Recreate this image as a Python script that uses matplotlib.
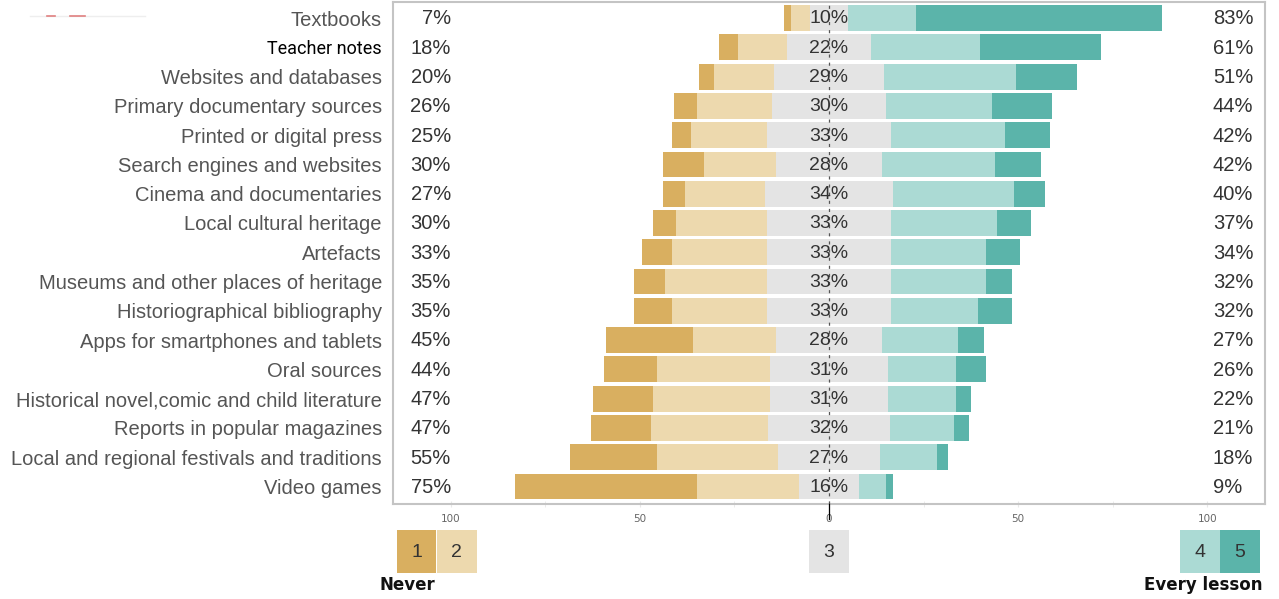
import matplotlib
matplotlib.use("Agg")
import matplotlib.pyplot as plt
from matplotlib.lines import Line2D
import numpy as np

cats = ['Textbooks', 'Teacher notes', 'Websites and databases',
        'Primary documentary sources', 'Printed or digital press',
        'Search engines and websites', 'Cinema and documentaries',
        'Local cultural heritage', 'Artefacts',
        'Museums and other places of heritage', 'Historiographical bibliography',
        'Apps for smartphones and tablets', 'Oral sources',
        'Historical novel,comic and child literature',
        'Reports in popular magazines',
        'Local and regional festivals and traditions', 'Video games']

# answer shares (%) per level, 1 = never ... 5 = every lesson
r1 = [2, 5, 4, 6, 5, 11, 6, 6, 8, 8, 10, 23, 14, 16, 16, 23, 48]
r2 = [5, 13, 16, 20, 20, 19, 21, 24, 25, 27, 25, 22, 30, 31, 31, 32, 27]
r3 = [10, 22, 29, 30, 33, 28, 34, 33, 33, 33, 33, 28, 31, 31, 32, 27, 16]
r4 = [18, 29, 35, 28, 30, 30, 32, 28, 25, 25, 23, 20, 18, 18, 17, 15, 7]
r5 = [65, 32, 16, 16, 12, 12, 8, 9, 9, 7, 9, 7, 8, 4, 4, 3, 2]

levels = ['1', '2', '3', '4', '5']
cols = ['#D9AF60', '#EDD9AE', '#E4E4E4', '#ABDAD4', '#5BB4AA']

r1 = np.array(r1); r2 = np.array(r2); r3 = np.array(r3)
r4 = np.array(r4); r5 = np.array(r5)
low = r1 + r2
high = r4 + r5

fig = plt.figure(figsize=(12.79, 5.99), dpi=100)
W, H = 1279, 599
ax = fig.add_axes([393 / W, 1 - 504 / H, (1265 - 393) / W, (504 - 2) / H])

y = np.arange(len(cats))
h = 0.88
start = -r3 / 2 - r2 - r1
ax.barh(y, r1, left=start, height=h, color=cols[0], zorder=2)
ax.barh(y, r2, left=start + r1, height=h, color=cols[1], zorder=2)
ax.barh(y, r3, left=-r3 / 2, height=h, color=cols[2], zorder=2)
ax.barh(y, r4, left=r3 / 2, height=h, color=cols[3], zorder=2)
ax.barh(y, r5, left=r3 / 2 + r4, height=h, color=cols[4], zorder=2)

ax.axvline(0, color='#555555', lw=0.9, ls=(0, (2.5, 4)), zorder=3)

tc = '#333333'
fs = 14.5
for i in range(len(cats)):
    ax.text(-100, i + 0.03, '%d%%' % low[i], ha='right', va='center', fontsize=fs,
            color=tc, family='Liberation Sans', zorder=4)
    ax.text(0, i + 0.03, '%d%%' % r3[i], ha='center', va='center', fontsize=14,
            color=tc, family='Liberation Sans', zorder=4)
    ax.text(101.5, i + 0.03, '%d%%' % high[i], ha='left', va='center', fontsize=fs,
            color=tc, family='Liberation Sans', zorder=4)

ax.set_xlim(-115.3, 115.3)
ax.set_ylim(len(cats) - 0.4, -0.55)
ax.set_yticks(y)
ax.set_yticklabels(cats, fontsize=fs, color='#555555', family='Liberation Sans')
for lab in ax.get_yticklabels():
    if lab.get_text() == 'Teacher notes':
        lab.set_color('black')
        lab.set_family('Roboto')
        lab.set_fontsize(13)
ax.tick_params(axis='y', length=0, pad=8)

ax.set_xticks([-100, -50, 0, 50, 100])
ax.set_xticklabels(['100', '50', '0', '50', '100'], fontsize=7.5, color='#666666')
ax.set_xticks([-75, -25, 25, 75], minor=True)
ax.tick_params(axis='x', which='both', length=4, direction='inout', color='#E8E8E8', pad=5)
for s in ax.spines.values():
    s.set_color('#C4C4C4')
    s.set_linewidth(1.5)
ax.plot([0, 0], [0, -0.03], transform=ax.get_xaxis_transform(), color='black',
        lw=0.9, clip_on=False, zorder=5)

# legend strip under the plot
lax = fig.add_axes([393 / W, 1 - 573 / H, (1265 - 393) / W, (573 - 530) / H])
lax.set_xlim(ax.get_xlim())
lax.set_ylim(0, 1)
lax.axis('off')
bw = 10.4
lpos = [-114.2, -103.6, -bw / 2, 92.9, 103.5]
for p, c, t in zip(lpos, cols, levels):
    lax.barh(0.5, bw, left=p, height=1, color=c)
    lax.text(p + bw / 2, 0.47, t, ha='center', va='center', fontsize=14,
             color=tc, family='Liberation Sans')

fig.text(380 / W, 1 - 585 / H, 'Never', ha='left', va='center', fontsize=12,
         fontweight='bold', color='#111111', family='DejaVu Sans')
fig.text(1263 / W, 1 - 585 / H, 'Every lesson', ha='right', va='center',
         fontsize=12, fontweight='bold', color='#111111', family='DejaVu Sans')

# faint scan marks top left
fig.add_artist(Line2D([30 / W, 145 / W], [1 - 16 / H, 1 - 16 / H], color='#EEEEEE', lw=1))
fig.add_artist(Line2D([47 / W, 55 / W], [1 - 16 / H, 1 - 16 / H], color='#E08080', lw=1.2))
fig.add_artist(Line2D([70 / W, 85 / W], [1 - 16 / H, 1 - 16 / H], color='#E08080', lw=1.2))

fig.savefig('out.png', dpi=100)
